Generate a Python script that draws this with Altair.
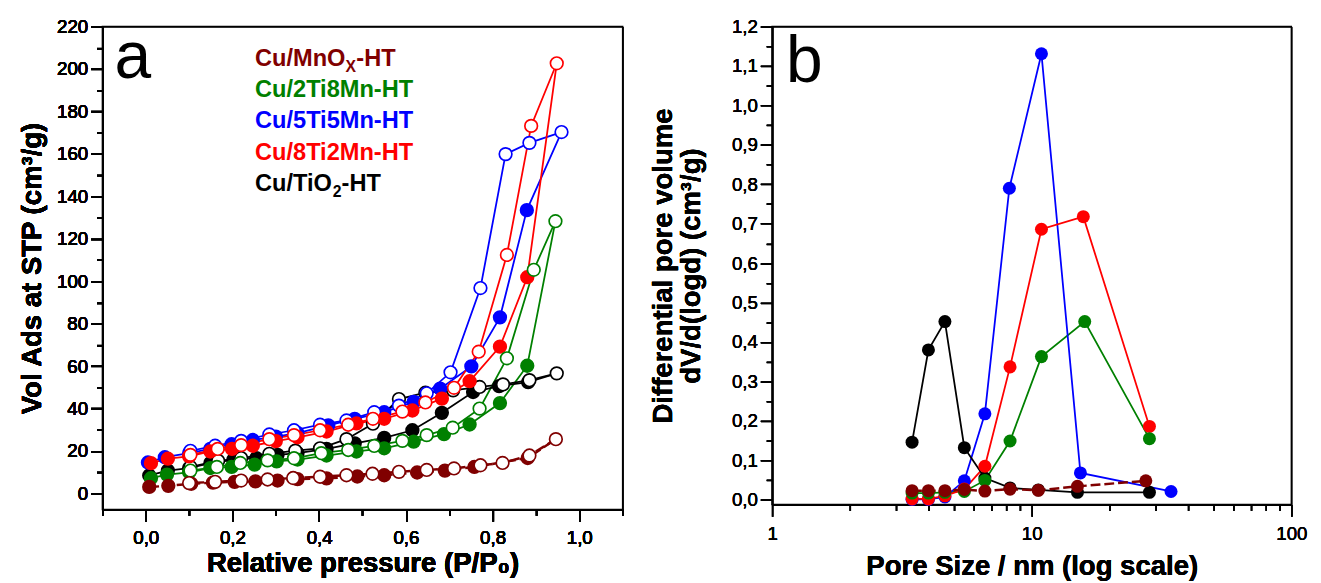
import altair as alt
import pandas as pd

FONT = "Liberation Sans"

series = ["Cu/MnOx-HT", "Cu/2Ti8Mn-HT", "Cu/5Ti5Mn-HT", "Cu/8Ti2Mn-HT", "Cu/TiO2-HT"]
colors = ["#800000", "#008000", "#0000ff", "#ff0000", "#000000"]
draw_rank = {"Cu/TiO2-HT": 0, "Cu/5Ti5Mn-HT": 1, "Cu/8Ti2Mn-HT": 2, "Cu/2Ti8Mn-HT": 3, "Cu/MnOx-HT": 4}

# ---------------- panel a : isotherms (adsorption filled, desorption open) ----------------
mn_ads_x = [0.008, 0.052, 0.105, 0.155, 0.205, 0.253, 0.304, 0.35, 0.417, 0.488, 0.55, 0.626, 0.69, 0.758, 0.881]
mn_ads_y = [3.1, 3.6, 4.6, 5.1, 5.5, 5.7, 6.1, 6.8, 7.1, 8.0, 8.6, 9.9, 10.8, 12.5, 16.7]
mn_des_x = [0.946, 0.885, 0.823, 0.772, 0.711, 0.648, 0.584, 0.523, 0.463, 0.402, 0.34, 0.281, 0.22, 0.16, 0.1]
mn_des_y = [25.6, 17.9, 14.4, 13.3, 11.8, 11.1, 10.2, 9.3, 8.6, 7.9, 7.3, 6.6, 6.1, 5.5, 4.9]

t28_ads_x = [0.012, 0.049, 0.10, 0.149, 0.198, 0.251, 0.302, 0.35, 0.417, 0.486, 0.55, 0.618, 0.688, 0.747, 0.817, 0.880]
t28_ads_y = [7.2, 8.9, 10.0, 12.0, 12.5, 13.6, 15.1, 16.0, 17.9, 19.8, 21.3, 24.4, 28.0, 32.5, 42.6, 60.2]
t28_des_x = [0.945, 0.895, 0.833, 0.770, 0.708, 0.648, 0.592, 0.527, 0.467, 0.405, 0.342, 0.281, 0.218, 0.164, 0.103]
t28_des_y = [128.3, 105.4, 63.7, 40.0, 31.0, 27.5, 24.8, 22.4, 20.5, 19.0, 16.6, 15.6, 14.4, 12.5, 10.8]

t55_ads_x = [0.005, 0.044, 0.10, 0.149, 0.198, 0.247, 0.30, 0.35, 0.421, 0.482, 0.55, 0.618, 0.679, 0.751, 0.817, 0.879]
t55_ads_y = [14.6, 17.1, 19.0, 21.0, 23.2, 25.2, 26.8, 28.5, 32.1, 35.2, 38.3, 43.2, 49.4, 59.9, 83.0, 133.5]
t55_des_x = [0.959, 0.885, 0.830, 0.772, 0.703, 0.648, 0.584, 0.527, 0.463, 0.402, 0.342, 0.285, 0.22, 0.160, 0.103]
t55_des_y = [170.3, 165.2, 159.9, 96.8, 57.1, 47.2, 41.4, 38.3, 34.4, 32.4, 29.8, 27.8, 24.8, 22.5, 20.1]

t82_ads_x = [0.012, 0.051, 0.10, 0.149, 0.199, 0.247, 0.30, 0.35, 0.417, 0.486, 0.55, 0.615, 0.683, 0.747, 0.817, 0.880]
t82_ads_y = [14.3, 16.4, 17.5, 19.8, 21.0, 22.5, 24.7, 26.5, 29.2, 33.0, 35.2, 39.1, 44.7, 52.9, 69.2, 101.9]
t82_des_x = [0.948, 0.889, 0.833, 0.768, 0.711, 0.645, 0.592, 0.524, 0.467, 0.402, 0.342, 0.285, 0.22, 0.166, 0.103]
t82_des_y = [202.7, 173.2, 112.4, 66.8, 49.8, 42.9, 38.6, 35.2, 32.4, 29.8, 27.5, 25.6, 22.8, 21.0, 18.2]

ti_ads_x = [0.008, 0.051, 0.10, 0.149, 0.202, 0.255, 0.304, 0.35, 0.417, 0.482, 0.55, 0.615, 0.683, 0.755, 0.815, 0.882]
ti_ads_y = [8.5, 10.8, 12.0, 14.3, 15.9, 16.7, 18.2, 19.0, 21.0, 23.6, 26.2, 29.8, 38.0, 47.8, 50.6, 52.5]
ti_des_x = [0.948, 0.885, 0.824, 0.770, 0.709, 0.645, 0.584, 0.524, 0.463, 0.402, 0.345, 0.285, 0.22, 0.167, 0.103]
ti_des_y = [56.6, 53.4, 51.4, 50.2, 48.6, 47.5, 44.5, 32.9, 25.6, 21.3, 20.2, 18.7, 16.7, 15.4, 12.5]

iso = {
    "Cu/MnOx-HT": (mn_ads_x, mn_ads_y, mn_des_x, mn_des_y),
    "Cu/2Ti8Mn-HT": (t28_ads_x, t28_ads_y, t28_des_x, t28_des_y),
    "Cu/5Ti5Mn-HT": (t55_ads_x, t55_ads_y, t55_des_x, t55_des_y),
    "Cu/8Ti2Mn-HT": (t82_ads_x, t82_ads_y, t82_des_x, t82_des_y),
    "Cu/TiO2-HT": (ti_ads_x, ti_ads_y, ti_des_x, ti_des_y),
}

# ---------------- panel b : pore size distributions ----------------
psd_mn_d = [3.46, 4.0, 4.63, 5.5, 6.6, 8.25, 10.6, 15.0, 27.5]
psd_mn_v = [0.023, 0.023, 0.023, 0.026, 0.022, 0.027, 0.024, 0.034, 0.048]
psd_t28_d = [3.46, 4.0, 4.63, 5.5, 6.6, 8.25, 10.9, 16.0, 28.4]
psd_t28_v = [0.017, 0.017, 0.019, 0.021, 0.049, 0.149, 0.363, 0.452, 0.155]
psd_t55_d = [3.46, 4.0, 4.63, 5.5, 6.6, 8.2, 10.9, 15.4, 34.4]
psd_t55_v = [0.001, 0.001, 0.007, 0.048, 0.218, 0.790, 1.131, 0.068, 0.021]
psd_t82_d = [3.46, 4.0, 4.63, 5.5, 6.6, 8.25, 10.9, 15.8, 28.4]
psd_t82_v = [0.002, 0.002, 0.010, 0.027, 0.085, 0.337, 0.686, 0.718, 0.186]
psd_ti_d = [3.46, 4.0, 4.63, 5.5, 6.6, 8.25, 10.6, 15.0, 28.4]
psd_ti_v = [0.146, 0.380, 0.452, 0.132, 0.055, 0.030, 0.025, 0.019, 0.019]

psd = {
    "Cu/MnOx-HT": (psd_mn_d, psd_mn_v),
    "Cu/2Ti8Mn-HT": (psd_t28_d, psd_t28_v),
    "Cu/5Ti5Mn-HT": (psd_t55_d, psd_t55_v),
    "Cu/8Ti2Mn-HT": (psd_t82_d, psd_t82_v),
    "Cu/TiO2-HT": (psd_ti_d, psd_ti_v),
}

# legend texts (panel a)
leg_main = ["Cu/MnO", "Cu/2Ti8Mn-HT", "Cu/5Ti5Mn-HT", "Cu/8Ti2Mn-HT", "Cu/TiO"]
leg_sub = ["X", "", "", "", "2"]
leg_tail = ["-HT", "", "", "", "-HT"]
leg_y = [201.5, 187.0, 172.2, 157.3, 142.6]
leg_x = 0.252

# axis ranges of each panel
a_xdom = [-0.1, 1.1]
a_ydom = [-7.5, 220]
b_xdom = [1, 100]
b_ydom = [-0.012, 1.2]

color_of = dict(zip(series, colors))

# ---------- build tables ----------
line_rows, pt_rows = [], []
for s, (ax_, ay_, dx_, dy_) in iso.items():
    r = draw_rank[s]
    c = color_of[s]
    for i, (x, y) in enumerate(zip(ax_, ay_)):
        line_rows.append(dict(series=s, key=s + "_ads", i=i, x=x, y=y))
        pt_rows.append(dict(series=s, x=x, y=y, fillc=c, strokec=c, z=r * 2))
    line_rows.append(dict(series=s, key=s + "_ads", i=len(ax_), x=dx_[0], y=dy_[0]))
    for i, (x, y) in enumerate(zip(dx_, dy_)):
        line_rows.append(dict(series=s, key=s + "_des", i=i, x=x, y=y))
        pt_rows.append(dict(series=s, x=x, y=y, fillc="white", strokec=c, z=r * 2 + 1))
iso_lines = pd.DataFrame(line_rows)
iso_pts = pd.DataFrame(pt_rows)

psd_rows = []
for s, (d_, v_) in psd.items():
    for i, (d, v) in enumerate(zip(d_, v_)):
        psd_rows.append(dict(series=s, i=i, d=d, v=v, z=draw_rank[s], c=color_of[s]))
psd_df = pd.DataFrame(psd_rows)

col_scale = alt.Scale(domain=series, range=colors)


def ax(values, major_test, label_expr, title, orient, tick_major=12, tick_minor=6, **kw):
    return alt.Axis(
        values=values,
        labelExpr=label_expr,
        tickSize={"condition": {"test": major_test, "value": tick_major}, "value": tick_minor},
        title=title,
        orient=orient,
        grid=False,
        domainColor="black",
        domainWidth=1.6,
        tickColor="black",
        tickWidth=1.5,
        labelFont=FONT,
        labelFontSize=19,
        labelColor="black",
        labelOverlap=False,
        labelFlush=False,
        labelBound=False,
        titleFont=FONT,
        titleFontSize=28,
        titleFontWeight="bold",
        titleColor="black",
        **kw,
    )


def frame_axis(orient):
    return alt.Axis(orient=orient, labels=False, ticks=False, grid=False, title=None,
                    domain=True, domainColor="black", domainWidth=1.6)


def frame_layer(xf, yf, xdom, ydom, xscale, yscale):
    df = pd.DataFrame({xf: [xdom[0], xdom[1]], yf: [ydom[0], ydom[1]]})
    return alt.Chart(df).mark_point(opacity=0).encode(
        x=alt.X(f"{xf}:Q", scale=xscale, axis=frame_axis("top")),
        y=alt.Y(f"{yf}:Q", scale=yscale, axis=frame_axis("right")),
    )


# ---------- panel a ----------
WA, HA = 529, 491
xa_scale = alt.Scale(domain=a_xdom, nice=False, zero=False)
ya_scale = alt.Scale(domain=a_ydom, nice=False, zero=False)
xa_vals = [round(-0.1 + 0.1 * k, 1) for k in range(13)]
ya_vals = list(range(0, 221, 10))
xa_axis = ax(
    xa_vals,
    "abs(datum.value*5 - round(datum.value*5)) < 0.001 && datum.value > -0.05 && datum.value < 1.05",
    "abs(datum.value*5 - round(datum.value*5)) < 0.001 && datum.value > -0.05 && datum.value < 1.05 ? replace(format(datum.value, '.1f'), '.', ',') : ''",
    "Relative pressure (P/P\u2080)", "bottom", labelPadding=8, titlePadding=2,
)
ya_axis = ax(
    ya_vals, "datum.value % 20 === 0",
    "datum.value % 20 === 0 ? format(datum.value, 'd') : ''",
    "Vol Ads at STP (cm\u00b3/g)", "left", labelPadding=3, titlePadding=10,
)
xa = alt.X("x:Q", scale=xa_scale, axis=xa_axis)
ya = alt.Y("y:Q", scale=ya_scale, axis=ya_axis)

a_lines_solid = alt.Chart(iso_lines).transform_filter("datum.series != 'Cu/MnOx-HT'").mark_line(strokeWidth=1.8).encode(
    x=xa, y=ya, color=alt.Color("series:N", scale=col_scale, legend=None), detail="key:N", order="i:Q")
a_lines_dash = alt.Chart(iso_lines).transform_filter("datum.series == 'Cu/MnOx-HT'").mark_line(strokeWidth=2.5, strokeDash=[10, 4]).encode(
    x=xa, y=ya, color=alt.Color("series:N", scale=col_scale, legend=None), detail="key:N", order="i:Q")
a_pts = alt.Chart(iso_pts).mark_point(shape="circle", filled=True, size=165, strokeWidth=1.7, opacity=1).encode(
    x=xa, y=ya,
    fill=alt.Fill("fillc:N", scale=None),
    stroke=alt.Stroke("strokec:N", scale=None),
    order="z:Q",
)

leg_df = pd.DataFrame(dict(x=[leg_x] * 5, y=leg_y, t=leg_main, s=leg_sub, tail=leg_tail, c=colors))
a_leg_main = alt.Chart(leg_df).mark_text(align="left", baseline="alphabetic", font=FONT, fontSize=24, fontWeight="bold").encode(
    x=xa, y=ya, text="t:N", color=alt.Color("c:N", scale=None))
sub_df = leg_df[leg_df.s != ""].copy()
a_leg_sub_mn = alt.Chart(sub_df.iloc[[0]]).mark_text(align="left", baseline="alphabetic", font=FONT, fontSize=16, fontWeight="bold", dx=92, dy=6).encode(
    x=xa, y=ya, text="s:N", color=alt.Color("c:N", scale=None))
a_leg_tail_mn = alt.Chart(sub_df.iloc[[0]]).mark_text(align="left", baseline="alphabetic", font=FONT, fontSize=24, fontWeight="bold", dx=103).encode(
    x=xa, y=ya, text="tail:N", color=alt.Color("c:N", scale=None))
a_leg_sub_ti = alt.Chart(sub_df.iloc[[1]]).mark_text(align="left", baseline="alphabetic", font=FONT, fontSize=16, fontWeight="bold", dx=79, dy=6).encode(
    x=xa, y=ya, text="s:N", color=alt.Color("c:N", scale=None))
a_leg_tail_ti = alt.Chart(sub_df.iloc[[1]]).mark_text(align="left", baseline="alphabetic", font=FONT, fontSize=24, fontWeight="bold", dx=88).encode(
    x=xa, y=ya, text="tail:N", color=alt.Color("c:N", scale=None))

a_letter = alt.Chart(pd.DataFrame(dict(x=[-0.072], y=[195.6], t=["a"]))).mark_text(
    align="left", baseline="alphabetic", font=FONT, fontSize=67, color="black").encode(x=xa, y=ya, text="t:N")

a_frame = frame_layer("x", "y", a_xdom, a_ydom, xa_scale, ya_scale)

panel_a = alt.layer(a_lines_solid, a_lines_dash, a_pts, a_leg_main, a_leg_sub_mn, a_leg_tail_mn,
                    a_leg_sub_ti, a_leg_tail_ti, a_letter, a_frame).resolve_axis(
    x="independent", y="independent").properties(width=WA, height=HA)

# ---------- panel b ----------
WB, HB = 528, 486
xb_scale = alt.Scale(type="log", domain=b_xdom, nice=False)
yb_scale = alt.Scale(domain=b_ydom, nice=False, zero=False)
xb_vals = [1, 2, 3, 4, 5, 6, 7, 8, 9, 10, 20, 30, 40, 50, 60, 70, 80, 90, 100]
yb_vals = [round(0.05 * k, 2) for k in range(25)]
xb_axis = ax(
    xb_vals, "datum.value == 1 || datum.value == 10 || datum.value == 100",
    "datum.value == 1 || datum.value == 10 || datum.value == 100 ? format(datum.value, 'd') : ''",
    "Pore Size / nm (log scale)", "bottom", labelPadding=9, titlePadding=9,
)
yb_axis = ax(
    yb_vals, "abs(datum.value*10 - round(datum.value*10)) < 0.001",
    "abs(datum.value*10 - round(datum.value*10)) < 0.001 ? replace(format(datum.value, '.1f'), '.', ',') : ''",
    ["Differential pore volume", "dV/d(logd) (cm\u00b3/g)"], "left", labelPadding=3, titlePadding=26,
    titleLineHeight=29,
)
xb = alt.X("d:Q", scale=xb_scale, axis=xb_axis)
yb = alt.Y("v:Q", scale=yb_scale, axis=yb_axis)

b_lines_solid = alt.Chart(psd_df).transform_filter("datum.series != 'Cu/MnOx-HT'").mark_line(strokeWidth=1.8).encode(
    x=xb, y=yb, color=alt.Color("series:N", scale=col_scale, legend=None), detail="series:N", order="i:Q")
b_lines_dash = alt.Chart(psd_df).transform_filter("datum.series == 'Cu/MnOx-HT'").mark_line(strokeWidth=2.5, strokeDash=[10, 4]).encode(
    x=xb, y=yb, color=alt.Color("series:N", scale=col_scale, legend=None), detail="series:N", order="i:Q")
b_pts = alt.Chart(psd_df).mark_circle(size=175, opacity=1).encode(
    x=xb, y=yb, color=alt.Color("c:N", scale=None), order="z:Q")
b_letter = alt.Chart(pd.DataFrame(dict(d=[1.13], v=[1.059], t=["b"]))).mark_text(
    align="left", baseline="alphabetic", font=FONT, fontSize=67, color="black").encode(x=xb, y=yb, text="t:N")

b_frame = frame_layer("d", "v", b_xdom, b_ydom, xb_scale, yb_scale)

panel_b = alt.layer(b_lines_solid, b_lines_dash, b_pts, b_letter, b_frame).resolve_axis(
    x="independent", y="independent").properties(width=WB, height=HB)

chart = alt.hconcat(panel_a, panel_b, spacing=152, bounds="flush").properties(
    padding={"left": 10, "top": 4, "right": 5, "bottom": 0}
).configure_view(stroke="black", strokeWidth=1.5)

chart.save("out.html", embed_options={"renderer": "svg", "actions": False})
